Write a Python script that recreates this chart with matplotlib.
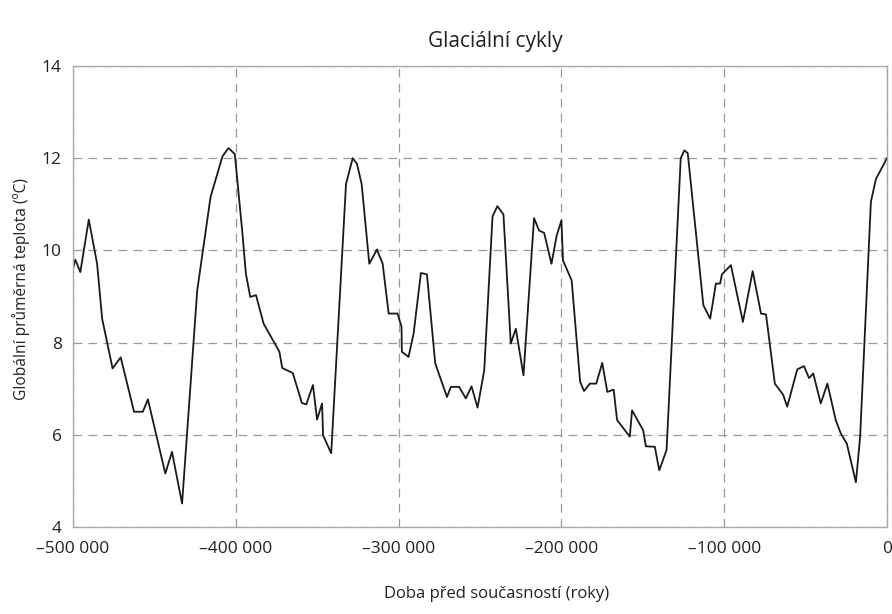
import matplotlib
matplotlib.use("Agg")
import matplotlib.pyplot as plt

# years before present and global mean temperature (deg C)
years = [-500000, -498600, -495500, -490300, -485200, -482100, -475700, -470700,
         -462500, -457100, -454000, -443300, -439200, -433000, -423700, -415500,
         -408200, -404500, -400600, -395900, -393800, -391100, -387600, -382900,
         -373200, -371500, -365000, -359400, -356700, -352600, -350100, -347000,
         -346400, -341400, -332300, -328200, -325600, -322700, -318000, -313300,
         -309800, -306100, -300600, -298200, -298000, -293900, -290800, -286300,
         -282600, -277500, -270300, -267900, -262800, -258700, -255200, -251500,
         -247400, -242300, -239300, -235600, -231100, -228000, -223300, -216800,
         -213700, -210600, -206100, -202900, -200000, -199000, -193700, -188500,
         -186100, -182500, -178600, -174900, -171800, -167900, -165800, -158000,
         -156600, -149800, -148100, -142600, -139900, -135400, -126700, -124500,
         -122400, -112800, -108600, -105100, -102500, -101400, -95900, -88500,
         -82500, -77400, -74300, -68900, -63800, -61300, -55100, -51000, -47900,
         -45300, -40700, -36600, -31500, -28400, -24700, -19100, -16500, -9900,
         -6800, 0]
temps = [9.60, 9.80, 9.53, 10.67, 9.71, 8.52, 7.44, 7.68,
         6.50, 6.50, 6.77, 5.16, 5.63, 4.51, 9.13, 11.16,
         12.04, 12.22, 12.09, 10.36, 9.49, 8.99, 9.03, 8.41,
         7.80, 7.45, 7.34, 6.69, 6.66, 7.08, 6.33, 6.68,
         5.99, 5.60, 11.44, 12.00, 11.88, 11.44, 9.71, 10.02,
         9.71, 8.63, 8.63, 8.34, 7.80, 7.69, 8.19, 9.51,
         9.48, 7.55, 6.82, 7.04, 7.04, 6.79, 7.05, 6.59,
         7.40, 10.74, 10.96, 10.78, 7.98, 8.30, 7.29, 10.70,
         10.43, 10.38, 9.71, 10.32, 10.65, 9.78, 9.35, 7.15,
         6.95, 7.11, 7.11, 7.56, 6.93, 6.98, 6.32, 5.96,
         6.53, 6.10, 5.75, 5.74, 5.23, 5.67, 12.00, 12.17,
         12.11, 8.81, 8.52, 9.28, 9.28, 9.48, 9.68, 8.45,
         9.55, 8.63, 8.61, 7.11, 6.87, 6.61, 7.42, 7.49, 7.23,
         7.33, 6.68, 7.11, 6.32, 6.03, 5.81, 4.97, 5.96, 11.05,
         11.55, 12.00]

xticks = [-500000, -400000, -300000, -200000, -100000, 0]
xlabels = ["\u2013500 000", "\u2013400 000", "\u2013300 000", "\u2013200 000", "\u2013100 000", "0"]
yticks = [4, 6, 8, 10, 12, 14]

plt.rcParams['font.family'] = ['Open Sans', 'DejaVu Sans']

fig = plt.figure(figsize=(8.92, 6.14), dpi=100)
ax = fig.add_axes([73 / 892, 1 - 527 / 614, 814 / 892, 461 / 614])

ax.plot(years, temps, color="#1a1a1a", lw=1.3)

ax.set_xlim(-500000, 0)
ax.set_ylim(4, 14)
ax.set_xticks(xticks)
ax.set_xticklabels(xlabels)
ax.set_yticks(yticks)
ax.tick_params(length=0, labelsize=12.5, colors="#222222")
ax.tick_params(axis="x", pad=10)
ax.tick_params(axis="y", pad=8)

ax.grid(True, color="#999999", ls=(0, (7, 5)), lw=0.9)
ax.set_axisbelow(True)
for s in ax.spines.values():
    s.set_color("#aaaaaa")
    s.set_linewidth(1.0)

fig.text(495 / 892, 1 - 41 / 614, "Glaciální cykly", ha="center", va="center",
         fontsize=15, color="#222222")
fig.text(497 / 892, 1 - 594 / 614, "Doba před současností (roky)", ha="center",
         va="center", fontsize=12, color="#222222")
fig.text(21 / 892, 1 - 289 / 614, "Globální průměrná teplota (ºC)", ha="center",
         va="center", rotation=90, fontsize=11.2, color="#222222")

fig.savefig("out.png", dpi=100)
